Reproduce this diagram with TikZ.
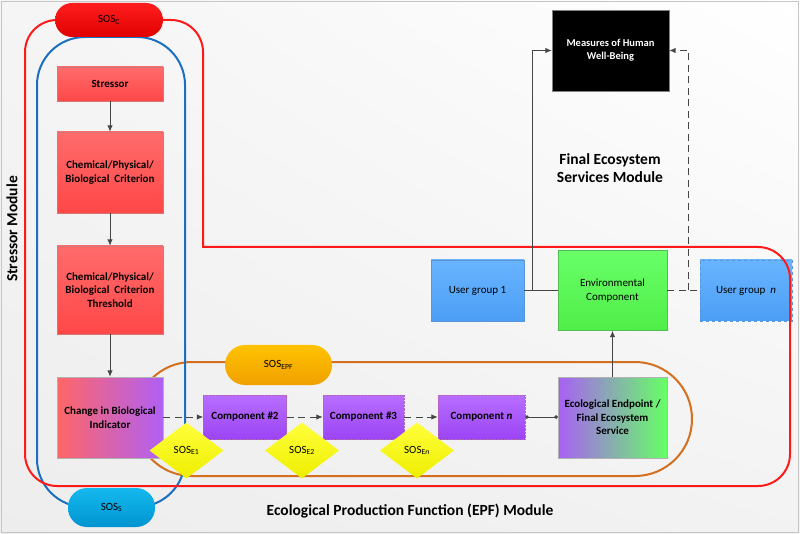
\documentclass[tikz,border=0pt]{standalone}
\usepackage{fontspec}
\setmainfont{Carlito}
\usetikzlibrary{shapes.geometric,arrows.meta,shadings}

\definecolor{loopred}{HTML}{FF1A1A}
\definecolor{loopblue}{HTML}{1A6FC0}
\definecolor{looporange}{HTML}{D46F1E}
\definecolor{linkgray}{HTML}{454545}

\tikzset{
    box/.style={rectangle, draw, line width=0.4pt, align=center, inner sep=2pt,
        font=\fontsize{11}{13.4}\selectfont\bfseries},
    redbox/.style={box, draw=red!55!gray!70, top color=red!58, bottom color=red!72, minimum width=106pt},
    compbox/.style={box, draw=violet!60!white, densely dotted, top color={rgb,255:red,184;green,110;blue,255},
        bottom color={rgb,255:red,155;green,68;blue,245}, minimum height=44pt},
    userbox/.style={box, font=\fontsize{11}{13.4}\selectfont, draw={rgb,255:red,90;green,150;blue,215},
        top color={rgb,255:red,104;green,180;blue,255}, bottom color={rgb,255:red,76;green,158;blue,245},
        minimum width=93pt, minimum height=61pt},
    pill/.style={rectangle, rounded corners=17pt, font=\fontsize{11}{12}\selectfont},
    sosdiam/.style={diamond, inner sep=0pt, minimum width=74pt, minimum height=56pt,
        top color={rgb,255:red,255;green,255;blue,60}, bottom color={rgb,255:red,238;green,238;blue,0},
        font=\fontsize{11}{12}\selectfont},
    modtitle/.style={align=center, font=\fontsize{15.5}{18}\selectfont\bfseries},
    link/.style={draw=linkgray, line width=1pt},
    dlink/.style={link, dash pattern=on 7pt off 4.5pt},
    >={Latex[length=6.5pt,width=5.5pt]}
}

\begin{document}
\begin{tikzpicture}[x=1pt, y=-1pt]
    \useasboundingbox (0,0) rectangle (800,534);
    % Background
    \shade[upper right=white, upper left=white!96!black, lower left=white!93!black, lower right=white!95!black]
        (0,0) rectangle (800,534);
    \draw[gray!45, line width=0.8pt] (1.5,1.5) rectangle (798.5,532.5);

    % Loops
    \draw[looporange, line width=2pt, rounded corners=57pt] (135,362) rectangle (692,476);
    \draw[loopblue, line width=2pt, rounded corners=48pt] (37,37) rectangle (185,507);

    % Blocks
    \node [redbox, minimum height=34pt] (stressor) at (110,84) {Stressor};
    \node [redbox, minimum height=81pt] (crit) at (110,172.5) {Chemical/Physical/\\Biological~ Criterion};
    \node [redbox, minimum height=88pt] (thresh) at (110,290) {Chemical/Physical/\\Biological~ Criterion\\Threshold};
    \node [box, draw=gray!60, left color=red!60, right color={rgb,255:red,176;green,96;blue,245},
           minimum width=106pt, minimum height=81pt] (change) at (110,417.5) {Change in Biological\\Indicator};
    \node [compbox, minimum width=83pt] (compTwo) at (245,417) {Component \#2};
    \node [compbox, minimum width=81pt] (compThree) at (363.5,417) {Component \#3};
    \node [compbox, minimum width=87pt] (compN) at (481.5,417) {Component \textit{n}};
    \node [box, draw=gray!60, left color={rgb,255:red,168;green,96;blue,245}, right color={rgb,255:red,102;green,255;blue,102},
           minimum width=109pt, minimum height=81pt] (endpt) at (612.5,417.5) {Ecological Endpoint /\\Final Ecosystem\\Service};
    \node [box, font=\fontsize{11}{13.4}\selectfont, draw={rgb,255:red,80;green,190;blue,80},
           top color={rgb,255:red,104;green,255;blue,104}, bottom color={rgb,255:red,80;green,238;blue,72},
           minimum width=109pt, minimum height=80pt] (envcomp) at (612.5,290.5) {Environmental\\Component};
    \node [userbox] (user1) at (477.5,290.5) {User group 1};
    \node [userbox, dashed, minimum width=92pt] (usern) at (746,290.5) {User group~ \textit{n}};
    \node [box, draw=gray, fill=black, text=white, font=\fontsize{10.5}{13.4}\selectfont\bfseries,
           minimum width=117pt, minimum height=81pt] (measures) at (610.5,50.5) {Measures of Human\\Well-Being};

    % Red loop
    \draw[loopred, line width=2pt, rounded corners=32pt]
        (80,20) -- (25,20) -- (25,486) -- (790,486) -- (790,247) -- (260,247)
        [sharp corners] -- (203,247) -- (203,200)
        [rounded corners=32pt] -- (203,20) -- (140,20);

    % SOS labels
    \node [pill, top color={rgb,255:red,255;green,30;blue,30}, bottom color={rgb,255:red,225;green,0;blue,0},
           minimum width=108pt, minimum height=34pt] (sosC) at (109,20) {SOS\textsubscript{C}};
    \node [pill, rounded corners=19pt, top color={rgb,255:red,20;green,185;blue,238}, bottom color={rgb,255:red,0;green,148;blue,208},
           minimum width=87pt, minimum height=39pt] (sosS) at (111.5,507.5) {SOS\textsubscript{S}};
    \node [pill, rounded corners=20pt, top color={rgb,255:red,255;green,194;blue,0}, bottom color={rgb,255:red,240;green,160;blue,0},
           minimum width=107pt, minimum height=40pt] (sosEPF) at (278.5,365) {SOS\textsubscript{EPF}};
    \node [sosdiam] (sosE1) at (186.5,450.5) {SOS\textsubscript{E1}};
    \node [sosdiam] (sosE2) at (302,450.5) {SOS\textsubscript{E2}};
    \node [sosdiam] (sosEn) at (417,450.5) {SOS\textsubscript{E\textit{n}}};

    % Module titles
    \node [modtitle, rotate=90] (stressmod) at (12,229) {Stressor Module};
    \node [modtitle] (fesmod) at (610,168) {Final Ecosystem\\Services Module};
    \node [modtitle] (epfmod) at (410,511) {Ecological Production Function (EPF) Module};

    % Connections
    \coordinate (j1) at (532,290.5);
    \coordinate (j2) at (688,290.5);
    \draw [link, ->] (stressor) -- (crit);
    \draw [link, ->] (crit) -- (thresh);
    \draw [link, ->] (thresh) -- (change);
    \draw [dlink, ->] (change.east |- compTwo) -- (compTwo);
    \draw [dlink, ->] (compTwo) -- (compThree);
    \draw [dlink, ->] (compThree) -- (compN);
    \draw [link, {Circle[length=3.5pt]}-{Circle[length=3.5pt]}] (compN) -- (endpt.west |- compN);
    \draw [link, ->] (endpt) -- (envcomp);
    \draw [link] (user1) -- (envcomp);
    \draw [link, ->] (j1) |- (measures.west);
    \draw [dlink] (envcomp) -- (usern);
    \draw [dlink, ->] (j2) |- (measures.east);
\end{tikzpicture}
\end{document}
